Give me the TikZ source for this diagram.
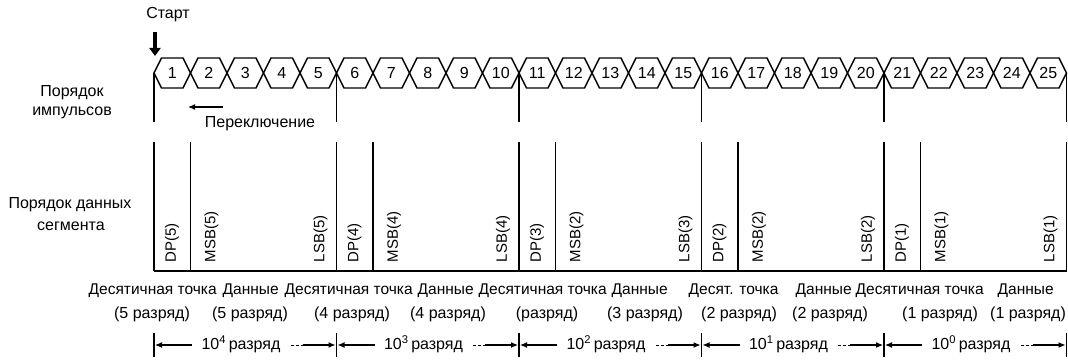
\documentclass[tikz,border=0pt]{standalone}
\usepackage{fontspec}
\setmainfont{Liberation Sans}
\usetikzlibrary{arrows.meta}

\begin{document}
\begin{tikzpicture}[x=1pt,y=-1pt,line width=1.4pt,
  lbl/.style={font=\fontsize{16}{18}\selectfont, inner sep=0pt},
  namelbl/.style={font=\fontsize{15.5}{18}\selectfont, inner sep=0pt, anchor=west},
  seglbl/.style={font=\fontsize{15}{17}\selectfont, rotate=90, anchor=west, inner sep=0pt},
  dimarr/.style={-{Latex[length=7pt,width=6pt]}, line width=1.1pt}]

\useasboundingbox (0,0) rectangle (1068,361);
\def\pw{36.5}

% Start
\node[lbl] (start) at (168,15) {Старт};
\draw[line width=4.5pt, -{Triangle[width=11pt,length=8pt]}] (155,32) -- (155,56);

% Pulse chain
\foreach \k [evaluate=\k as \xa using 154+\k*\pw, evaluate=\k as \xb using 154+(\k+1)*\pw] in {0,...,24}
{
\draw (\xa,73) -- ({\xa+7.5},58) -- ({\xb-7.5},58) -- (\xb,73) -- ({\xb-7.5},88) -- ({\xa+7.5},88) -- cycle;
\pgfmathtruncatemacro\n{\k+1}
\node[lbl] (p\n) at ({(\xa+\xb)/2},73) {\n};
}

% Group lines
\foreach \j [evaluate=\j as \x using 154+5*\j*\pw] in {0,...,5}
{
\draw (\x,73) -- (\x,122);
\draw (\x,142) -- (\x,271);
\draw (\x,333) -- (\x,357);
}
\foreach \j [evaluate=\j as \x using 154+(5*\j+1)*\pw] in {0,...,4}
{
\draw (\x,142) -- (\x,271);
}
\draw (154,271) -- ({154+25*\pw},271);

% Row labels
\node[lbl] (po1) at (72,93) {Порядок};
\node[lbl] (po2) at (72,113) {импульсов};
\node[lbl] (pd1) at (70,205) {Порядок данных};
\node[lbl] (pd2) at (71,226) {сегмента};

% Switching
\draw[dimarr] (223,107) -- (188,107);
\node[lbl] (sw) at (260,124) {Переключение};

% Segment data
\foreach \j/\d/\m/\l [evaluate=\j as \x using 154+5*\j*\pw] in {0/5/5/5,1/4/4/4,2/3/2/3,3/2/2/2,4/1/1/1}
{
\node[seglbl] (dp\j) at ({\x+18},263) {DP(\d)};
\node[seglbl] (msb\j) at ({\x+\pw+21},263) {MSB(\m)};
\node[seglbl] (lsb\j) at ({\x+5*\pw-16},263) {LSB(\l)};
}

% Digit names
\node[namelbl] (t1) at (88,291) {Десятичная точка};
\node[namelbl] (t2) at (222,291) {Данные};
\node[namelbl] (t3) at (284,291) {Десятичная точка};
\node[namelbl] (t4) at (417,291) {Данные};
\node[namelbl] (t5) at (478,291) {Десятичная точка};
\node[namelbl] (t6) at (611,291) {Данные};
\node[namelbl] (t7) at (688,291) {Десят. точка};
\node[namelbl] (t8) at (795,291) {Данные};
\node[namelbl] (t9) at (855,291) {Десятичная точка};
\node[namelbl] (t10) at (997,291) {Данные};

\node[lbl] (r1) at (152,314) {(5 разряд)};
\node[lbl] (r2) at (250,314) {(5 разряд)};
\node[lbl] (r3) at (352,314) {(4 разряд)};
\node[lbl] (r4) at (448,314) {(4 разряд)};
\node[lbl] (r5) at (547,314) {(разряд)};
\node[lbl] (r6) at (645,314) {(3 разряд)};
\node[lbl] (r7) at (739,314) {(2 разряд)};
\node[lbl] (r8) at (830,314) {(2 разряд)};
\node[lbl] (r9) at (940,314) {(1 разряд)};
\node[lbl] (r10) at (1028,314) {(1 разряд)};

% Decades
\foreach \j/\e [evaluate=\j as \xa using 154+5*\j*\pw, evaluate=\j as \xb using 154+5*(\j+1)*\pw] in {0/4,1/3,2/2,3/1,4/0}
{
\draw[dimarr] ({\xa+38},345) -- ({\xa+1},345);
\node[lbl] (d\j) at ({\xa+87},344) {10\textsuperscript{\e}\,разряд};
\draw[densely dashed, line width=0.8pt] ({\xb-46},345) -- ({\xb-34},345);
\draw[dimarr] ({\xb-34},345) -- ({\xb-1},345);
}

\end{tikzpicture}
\end{document}
